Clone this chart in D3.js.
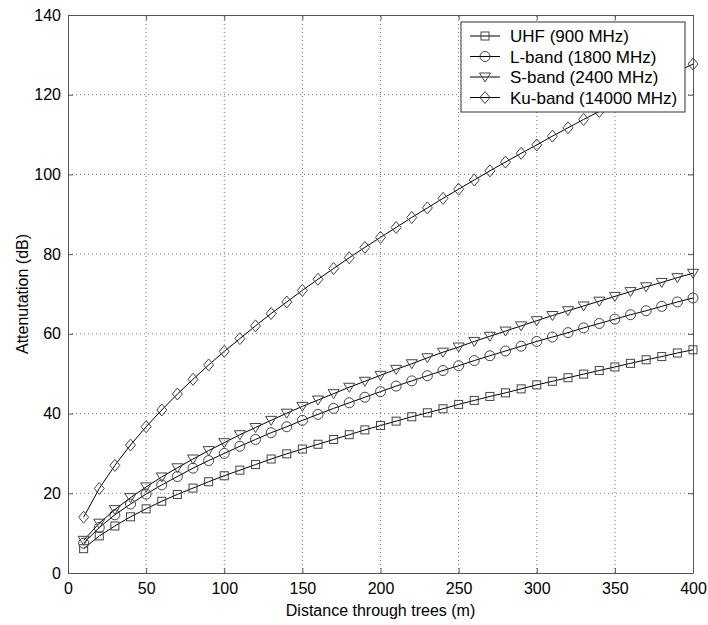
<!DOCTYPE html>
<html>
<head>
<meta charset="utf-8">
<script src="https://cdn.jsdelivr.net/npm/d3@7"></script>
<style>
  body { margin: 0; background: #fff; }
  svg { display: block; font-family: "Liberation Sans", Arial, sans-serif; }
</style>
</head>
<body>
<svg id="chart" width="708" height="625"></svg>
<script>
const distances = d3.range(10, 401, 10)

const uhf = [6.1, 9.3, 11.8, 14.1, 16.1, 18.0, 19.7, 21.3, 22.9, 24.4,
  25.8, 27.2, 28.6, 29.9, 31.1, 32.3, 33.5, 34.7, 35.9, 37.0,
  38.1, 39.2, 40.2, 41.2, 42.3, 43.3, 44.3, 45.2, 46.2, 47.2,
  48.1, 49.0, 49.9, 50.8, 51.7, 52.6, 53.5, 54.3, 55.2, 56.0]

const lband = [7.5, 11.4, 14.6, 17.3, 19.8, 22.1, 24.2, 26.3, 28.2, 30.0,
  31.8, 33.5, 35.2, 36.7, 38.3, 39.8, 41.3, 42.7, 44.1, 45.5,
  46.9, 48.2, 49.5, 50.8, 52.0, 53.3, 54.5, 55.7, 56.9, 58.1,
  59.2, 60.3, 61.5, 62.6, 63.7, 64.8, 65.8, 66.9, 68.0, 69.0]

const sband = [8.2, 12.5, 15.9, 18.9, 21.6, 24.1, 26.4, 28.6, 30.7, 32.7,
  34.7, 36.5, 38.3, 40.1, 41.8, 43.4, 45.0, 46.6, 48.1, 49.6,
  51.1, 52.5, 54.0, 55.4, 56.7, 58.1, 59.4, 60.7, 62.0, 63.3,
  64.6, 65.8, 67.0, 68.2, 69.4, 70.6, 71.8, 72.9, 74.1, 75.2]

const kuband = [14.0, 21.2, 27.0, 32.1, 36.7, 40.9, 44.9, 48.6, 52.2, 55.6,
  58.8, 62.0, 65.1, 68.0, 70.9, 73.7, 76.4, 79.1, 81.7, 84.2,
  86.7, 89.2, 91.6, 94.0, 96.3, 98.6, 100.9, 103.1, 105.3, 107.4,
  109.6, 111.7, 113.8, 115.8, 117.9, 119.9, 121.8, 123.8, 125.8, 127.7]

const seriesNames = ["UHF (900 MHz)", "L-band (1800 MHz)", "S-band (2400 MHz)", "Ku-band (14000 MHz)"]
const seriesValues = [uhf, lband, sband, kuband]
const markers = ["square", "circle", "triangle", "diamond"]

const xTicks = [0, 50, 100, 150, 200, 250, 300, 350, 400]
const yTicks = [0, 20, 40, 60, 80, 100, 120, 140]

const margin = { left: 68, right: 15, top: 15, bottom: 52 },
      width = 708, height = 625

const svg = d3.select("#chart")

const x = d3.scaleLinear().domain([0, 400]).range([margin.left, width - margin.right])
const y = d3.scaleLinear().domain([0, 140]).range([height - margin.bottom, margin.top])

const axisColor = "#555"

// grid
const grid = svg.append("g")
grid.selectAll(".vx").data(xTicks.slice(1, -1)).enter().append("line")
  .attr("x1", d => x(d)).attr("x2", d => x(d))
  .attr("y1", y(0)).attr("y2", y(140))
  .attr("stroke", "#777").attr("stroke-dasharray", "1,3")
grid.selectAll(".hy").data(yTicks.slice(1, -1)).enter().append("line")
  .attr("y1", d => y(d)).attr("y2", d => y(d))
  .attr("x1", x(0)).attr("x2", x(400))
  .attr("stroke", "#777").attr("stroke-dasharray", "1,3")

// axes
const xAxis = svg.append("g")
  .attr("transform", `translate(0,${y(0)})`)
  .call(d3.axisBottom(x).tickValues(xTicks).tickSizeInner(-5).tickSizeOuter(0).tickPadding(10))
const yAxis = svg.append("g")
  .attr("transform", `translate(${x(0)},0)`)
  .call(d3.axisLeft(y).tickValues(yTicks).tickSizeInner(-5).tickSizeOuter(0).tickPadding(6))
svg.append("g")
  .attr("transform", `translate(0,${y(140)})`)
  .call(d3.axisTop(x).tickValues(xTicks).tickSizeInner(-5).tickSizeOuter(0).tickFormat(""))
svg.append("g")
  .attr("transform", `translate(${x(400)},0)`)
  .call(d3.axisRight(y).tickValues(yTicks).tickSizeInner(-5).tickSizeOuter(0).tickFormat(""))

svg.selectAll(".domain, .tick line").attr("stroke", axisColor)
svg.selectAll(".tick text").attr("fill", "#000").style("font-size", "16px")
yAxis.selectAll(".tick text").attr("dx", "-1")

// axis labels
svg.append("text")
  .attr("x", (x(0) + x(400)) / 2).attr("y", 616)
  .attr("text-anchor", "middle").style("font-size", "16px")
  .text("Distance through trees (m)")
svg.append("text")
  .attr("transform", `translate(28,${(y(0) + y(140)) / 2}) rotate(-90)`)
  .attr("text-anchor", "middle").style("font-size", "16px")
  .text("Attenutation (dB)")

// markers
function drawMarker(g, type, cx, cy) {
  if (type == "square") {
    g.append("rect").attr("x", cx - 4).attr("y", cy - 4).attr("width", 8).attr("height", 8)
  } else if (type == "circle") {
    g.append("circle").attr("cx", cx).attr("cy", cy).attr("r", 5)
  } else if (type == "triangle") {
    g.append("path").attr("d", `M${cx - 5.5},${cy - 4}L${cx + 5.5},${cy - 4}L${cx},${cy + 5}Z`)
  } else {
    g.append("path").attr("d", `M${cx},${cy - 6}L${cx + 5},${cy}L${cx},${cy + 6}L${cx - 5},${cy}Z`)
  }
}

const line = d3.line().x((d, i) => x(distances[i])).y(d => y(d))

seriesValues.forEach((vals, s) => {
  const g = svg.append("g")
  g.append("path").datum(vals).attr("d", line)
    .attr("fill", "none").attr("stroke", "#000").attr("stroke-width", 1)
  const mg = g.append("g").attr("fill", "none").attr("stroke", "#444").attr("stroke-width", 1)
  vals.forEach((v, i) => drawMarker(mg, markers[s], x(distances[i]), y(v)))
})

// legend
const legend = svg.append("g").attr("transform", "translate(461,22)")
legend.append("rect").attr("width", 224).attr("height", 90)
  .attr("fill", "#fff").attr("stroke", "#333")
seriesNames.forEach((name, i) => {
  const yy = 14 + i * 20.5
  const row = legend.append("g")
  row.append("line").attr("x1", 9).attr("x2", 39).attr("y1", yy).attr("y2", yy)
    .attr("stroke", "#000")
  const mg = row.append("g").attr("fill", "none").attr("stroke", "#444")
  drawMarker(mg, markers[i], 24, yy)
  row.append("text").attr("x", 49).attr("y", yy + 6)
    .style("font-size", "17px").text(name)
})
</script>
</body>
</html>
